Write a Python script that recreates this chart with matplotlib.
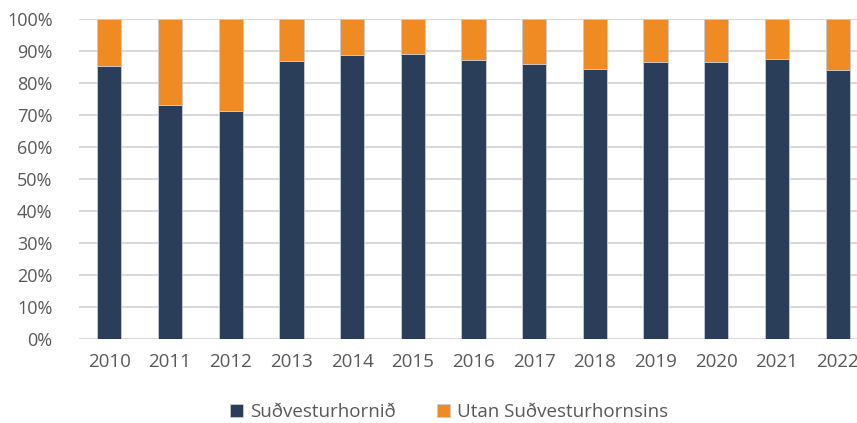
import matplotlib.pyplot as plt
from matplotlib.ticker import FuncFormatter

# share of total (%)
years = ['2010', '2011', '2012', '2013', '2014', '2015', '2016',
         '2017', '2018', '2019', '2020', '2021', '2022']
sudvestur = [85.3, 73.0, 71.4, 87.0, 88.6, 89.0, 87.3,
             85.8, 84.5, 86.5, 86.6, 87.6, 84.2]
utan = [100 - v for v in sudvestur]

navy = '#2a3d59'
orange = '#f08a22'
text_col = '#595959'

plt.rcParams['font.family'] = ['Open Sans', 'DejaVu Sans']

fig = plt.figure(figsize=(8.57, 4.23), dpi=100)
ax = fig.add_axes([79 / 857, (423 - 339) / 423, (868 - 79) / 857, 320 / 423])

x = list(range(len(years)))
ax.bar(x, sudvestur, width=0.4, color=navy, edgecolor='#c8ccd4', linewidth=0.6,
       label='Suðvesturhornið', zorder=3)
ax.bar(x, utan, width=0.4, bottom=sudvestur, color=orange, edgecolor='#c8ccd4',
       linewidth=0.6, label='Utan Suðvesturhornsins', zorder=3)

ax.set_xlim(-0.5, len(years) - 0.5)
ax.set_ylim(0, 100)
ax.set_yticks(range(0, 101, 10))
ax.yaxis.set_major_formatter(FuncFormatter(lambda v, p: f'{int(v)}%'))
ax.set_xticks(x)
ax.set_xticklabels(years)
ax.grid(axis='y', color='#d9d9d9', linewidth=1.5, zorder=0)
ax.set_axisbelow(True)
for s in ax.spines.values():
    s.set_visible(False)
ax.tick_params(length=0, labelsize=13.5, colors=text_col)
ax.tick_params(axis='y', pad=19, labelsize=13)
ax.tick_params(axis='x', pad=10)

fig.legend(loc='center', bbox_to_anchor=(449 / 857, 1 - 412 / 423), ncol=2,
           frameon=False, fontsize=13.5, labelcolor=text_col,
           handlelength=0.7, handleheight=0.7, handletextpad=0.35, columnspacing=2.2)

fig.savefig('out.png', dpi=100)
